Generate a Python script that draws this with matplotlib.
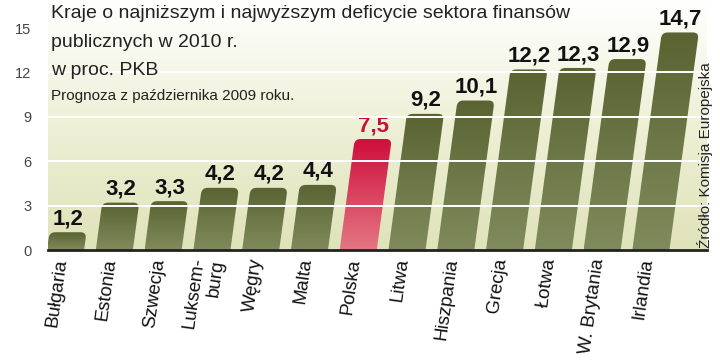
import numpy as np
import matplotlib.pyplot as plt
from matplotlib.path import Path
from matplotlib.patches import PathPatch
from matplotlib.colors import LinearSegmentedColormap

# Data
countries = ['Bułgaria', 'Estonia', 'Szwecja', 'Luksem-\nburg', 'Węgry', 'Malta', 'Polska',
             'Litwa', 'Hiszpania', 'Grecja', 'Łotwa', 'W. Brytania', 'Irlandia']
values = [1.2, 3.2, 3.3, 4.2, 4.2, 4.4, 7.5, 9.2, 10.1, 12.2, 12.3, 12.9, 14.7]
highlight = 'Polska'
yticks = [0, 3, 6, 9, 12, 15]

title_lines = ['Kraje o najniższym i najwyższym deficycie sektora finansów',
               'publicznych w 2010 r.',
               'w proc. PKB']
subtitle = 'Prognoza z października 2009 roku.'
source = 'Źródło: Komisja Europejska'

plt.rcParams['font.family'] = ['Liberation Sans', 'DejaVu Sans']

fig = plt.figure(figsize=(7.2, 3.64), dpi=100)
ax = fig.add_axes([48 / 720, 114 / 364, 659 / 720, 250 / 364])

x = np.arange(len(values))
xmin, xmax = -0.36, 13.15
ymax = 250 / 14.8
ax.set_xlim(xmin, xmax)
ax.set_ylim(0, ymax)

# background gradient
bg = LinearSegmentedColormap.from_list('bg', ['#dfe3b9', '#eef0d6', '#ffffff'])
grad = np.linspace(0, 1, 256).reshape(-1, 1)
ax.imshow(grad, cmap=bg, origin='lower', extent=(xmin, xmax, 0, ymax),
          aspect='auto', zorder=0)

olive = LinearSegmentedColormap.from_list('olive', ['#808b5d', '#5a6331'])
red = LinearSegmentedColormap.from_list('red', ['#e47783', '#cf0e3d'])

w = 0.76      # bar width
s = 0.041     # slant (x shift per y unit)
rx, ry = 0.12, 0.4

for xi, v, name in zip(x, values, countries):
    x0, x1 = xi - w / 2, xi + w / 2
    verts = [(x0, 0), (x1, 0),
             (x1 + s * (v - ry), v - ry), (x1 + s * v, v), (x1 + s * v - rx, v),
             (x0 + s * v + rx, v), (x0 + s * v, v), (x0 + s * (v - ry), v - ry),
             (x0, 0)]
    codes = [Path.MOVETO, Path.LINETO,
             Path.LINETO, Path.CURVE3, Path.CURVE3,
             Path.LINETO, Path.CURVE3, Path.CURVE3,
             Path.CLOSEPOLY]
    patch = PathPatch(Path(verts, codes), facecolor='none', edgecolor='none', zorder=2)
    ax.add_patch(patch)
    cmap = red if name == highlight else olive
    im = ax.imshow(grad, cmap=cmap, origin='lower', extent=(x0, x1 + s * v, 0, v),
                   aspect='auto', zorder=2)
    im.set_clip_path(patch)
    color = '#c8103c' if name == highlight else '#111111'
    ax.text(xi + s * v, v + 0.2, f'{v:.1f}'.replace('.', ','), ha='center', va='bottom',
            fontsize=16, fontweight='bold', color=color)

for y in yticks[1:-1]:
    ax.axhline(y, color='white', lw=1.4, zorder=3)

ax.set_xlim(xmin, xmax)
ax.set_ylim(0, ymax)

for sp in ['top', 'right', 'left']:
    ax.spines[sp].set_visible(False)
ax.spines['bottom'].set_color('#222222')
ax.spines['bottom'].set_linewidth(2)
ax.spines['bottom'].set_zorder(5)

ax.set_yticks(yticks)
ax.set_yticklabels([str(t) for t in yticks])
ax.tick_params(axis='y', length=0, pad=12, labelsize=10.5, labelcolor='#444444')

ax.set_xticks(x - 0.07)
ax.set_xticklabels(countries, rotation=82, ha='right', va='center',
                   rotation_mode='anchor', fontsize=13.5, color='#111111')
ax.tick_params(axis='x', length=0, pad=6)

# titles
baselines = [18, 47, 75]
for line, b in zip(title_lines, baselines):
    fig.text(51 / 720, 1 - b / 364, line, fontsize=14, color='#222222', va='baseline')
fig.text(51 / 720, 1 - 100 / 364, subtitle, fontsize=11, color='#222222', va='baseline')

fig.text(705 / 720, 1 - 248 / 364, source, rotation=90, ha='center', va='bottom',
         fontsize=11, color='#222222')

fig.savefig('out.png', dpi=100)
